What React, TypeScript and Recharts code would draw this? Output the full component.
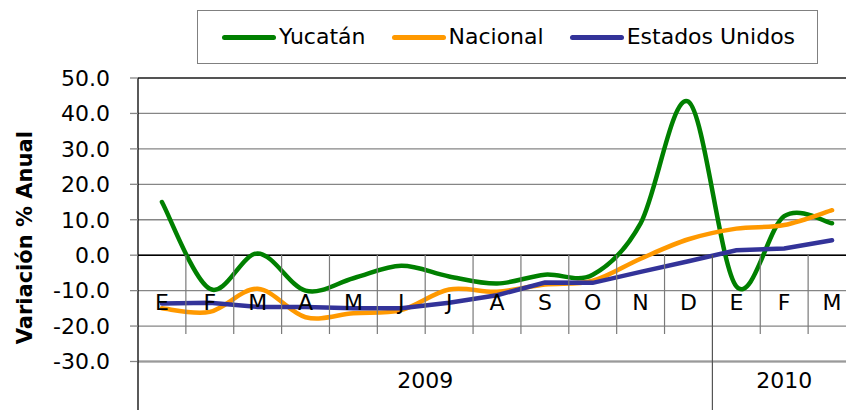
import React from "react";
import { LineChart, Line, XAxis, YAxis, CartesianGrid, ReferenceLine, Legend, Label } from "recharts";

const months = ["E", "F", "M", "A", "M", "J", "J", "A", "S", "O", "N", "D", "E", "F", "M"];
const years = ["2009", "2010"];
const yearSpans = [12, 3];
const yucatan = [15, -9.5, 0.5, -10, -6.5, -3, -6, -8, -5.5, -5.5, 9, 43.3, -8.8, 11, 9];
const nacional = [-15, -16, -9.5, -17.5, -16.4, -15.5, -9.7, -10.3, -8.3, -7.2, -1, 4.5, 7.5, 8.5, 12.7];
const eeuu = [-13.6, -13.4, -14.6, -14.6, -15, -15, -13.4, -11.3, -7.7, -7.8, -4.7, -1.7, 1.4, 1.9, 4.2];
const yTicks = [-30, -20, -10, 0, 10, 20, 30, 40, 50];
const seriesNames = ["Yucatán", "Nacional", "Estados Unidos"];
const seriesColors = ["#008000", "#FF9900", "#333399"];

const data = months.map((m, i) => ({
  idx: i,
  mes: m,
  yucatan: yucatan[i],
  nacional: nacional[i],
  eeuu: eeuu[i],
}));

const yearStarts: number[] = [];
{
  let acc = 0;
  for (const s of yearSpans) {
    yearStarts.push(acc);
    acc += s;
  }
}

const FONT = "'DejaVu Sans', sans-serif";

// Excel-like smoothing (Catmull-Rom through the points)
const excelSmooth = (context: any) => {
  let pts: [number, number][] = [];
  return {
    areaStart() {},
    areaEnd() {},
    lineStart() {
      pts = [];
    },
    point(x: number, y: number) {
      pts.push([+x, +y]);
    },
    lineEnd() {
      const n = pts.length;
      if (!n) return;
      context.moveTo(pts[0][0], pts[0][1]);
      for (let i = 0; i < n - 1; i++) {
        const p0 = pts[i - 1] || pts[i];
        const p1 = pts[i];
        const p2 = pts[i + 1];
        const p3 = pts[i + 2] || pts[i + 1];
        context.bezierCurveTo(
          p1[0] + (p2[0] - p0[0]) / 6,
          p1[1] + (p2[1] - p0[1]) / 6,
          p2[0] - (p3[0] - p1[0]) / 6,
          p2[1] - (p3[1] - p1[1]) / 6,
          p2[0],
          p2[1]
        );
      }
    },
  };
};

const CategoryTick = (props: any) => {
  const { x, y, payload, index } = props;
  const i = payload && typeof payload.index === "number" ? payload.index : index;
  const half = payload && payload.offset > 0 ? payload.offset : 23.93;
  const left = x - half;
  const yearIdx = yearStarts.indexOf(i);
  return (
    <g>
      {i > 0 && yearIdx < 0 && (
        <line x1={left} x2={left} y1={y - 106.5} y2={y - 27.5} stroke="#7a7a7a" strokeWidth={1.2} />
      )}
      {yearIdx > 0 && (
        <line x1={left} x2={left} y1={y - 106.5} y2={y + 48.5} stroke="#555" strokeWidth={1.2} />
      )}
      {i === 0 && <line x1={left} x2={left} y1={y} y2={y + 48.5} stroke="#000" strokeWidth={1.3} />}
      <text x={x} y={y - 59} dy="0.36em" textAnchor="middle" fill="#000" fontSize={22} fontFamily={FONT}>
        {months[i]}
      </text>
      {yearIdx >= 0 && (
        <text
          x={left + yearSpans[yearIdx] * half}
          y={y + 19}
          dy="0.36em"
          textAnchor="middle"
          fill="#000"
          fontSize={22}
          fontFamily={FONT}
        >
          {years[yearIdx]}
        </text>
      )}
    </g>
  );
};

const renderTitle = (props: any) => {
  const vb = props.viewBox || { x: 0, y: 78, width: 138, height: 283.5 };
  const cx = vb.x + 25;
  const cy = vb.y + vb.height / 2 + 18;
  return (
    <text
      x={cx}
      y={cy}
      transform={`rotate(-90 ${cx} ${cy})`}
      textAnchor="middle"
      dominantBaseline="central"
      fontSize={21}
      fontWeight="bold"
      fontFamily={FONT}
      fill="#000"
    >
      Variación % Anual
    </text>
  );
};

const renderLegend = () => {
  return (
    <div
      style={{
        boxSizing: "border-box",
        width: 621,
        height: 54,
        border: "1.5px solid #808080",
        background: "#fff",
        display: "flex",
        alignItems: "center",
        paddingLeft: 24,
        fontFamily: FONT,
        fontSize: 22,
        color: "#000",
        whiteSpace: "nowrap",
      }}
    >
      {seriesNames.map((name, k) => (
        <div key={k} style={{ display: "flex", alignItems: "center", marginRight: 26, flex: "none" }}>
          <div style={{ width: 54, height: 5, borderRadius: 3, background: seriesColors[k], marginRight: 3 }} />
          <span style={{ lineHeight: "24px" }}>{name}</span>
        </div>
      ))}
    </div>
  );
};

export default function App() {
  return (
    <div
      style={{
        position: "absolute",
        left: 0,
        top: 0,
        width: 846,
        height: 410,
        overflow: "hidden",
        background: "#fff",
      }}
    >
      <LineChart width={870} height={410} data={data} margin={{ top: 78, right: 14, bottom: 0, left: 0 }}>
        <CartesianGrid horizontal vertical={false} stroke="#868686" strokeWidth={1.3} />
        <ReferenceLine y={50} stroke="#3a3a3a" strokeWidth={1.3} />
        <ReferenceLine y={-30} stroke="#9a9a9a" strokeWidth={2} />
        <ReferenceLine y={0} stroke="#000" strokeWidth={1.5} />
        <YAxis
          type="number"
          domain={[-30, 50]}
          ticks={yTicks}
          interval={0}
          width={138}
          tickSize={8}
          tickMargin={20}
          tickFormatter={(v: number) => v.toFixed(1)}
          axisLine={{ stroke: "#000", strokeWidth: 1.3 }}
          tickLine={{ stroke: "#868686", strokeWidth: 1.3 }}
          tick={{ fill: "#000", fontSize: 22, fontFamily: FONT }}
        >
          <Label content={renderTitle} />
        </YAxis>
        <Line
          type={excelSmooth as any}
          dataKey="yucatan"
          name={seriesNames[0]}
          stroke={seriesColors[0]}
          strokeWidth={4.5}
          strokeLinecap="round"
          dot={false}
          activeDot={false}
          isAnimationActive={false}
        />
        <Line
          type={excelSmooth as any}
          dataKey="nacional"
          name={seriesNames[1]}
          stroke={seriesColors[1]}
          strokeWidth={4.5}
          strokeLinecap="round"
          dot={false}
          activeDot={false}
          isAnimationActive={false}
        />
        <Line
          type="linear"
          dataKey="eeuu"
          name={seriesNames[2]}
          stroke={seriesColors[2]}
          strokeWidth={4.5}
          strokeLinecap="round"
          dot={false}
          activeDot={false}
          isAnimationActive={false}
        />
        <XAxis
          dataKey="idx"
          type="category"
          scale="band"
          interval={0}
          height={48.5}
          tickSize={0}
          tickMargin={0}
          axisLine={false}
          tickLine={false}
          tick={<CategoryTick />}
        />
        <Legend
          verticalAlign="middle"
          align="center"
          layout="horizontal"
          wrapperStyle={{ top: 10, left: 197, width: 621, height: 54 }}
          content={renderLegend}
        />
      </LineChart>
    </div>
  );
}
